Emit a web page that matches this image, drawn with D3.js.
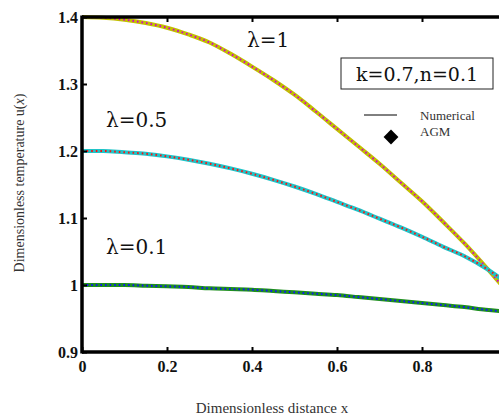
<!DOCTYPE html>
<html>
<head>
<meta charset="utf-8">
<script src="https://cdn.jsdelivr.net/npm/d3@7"></script>
<style>
  body { margin: 0; background: #fff; }
  text { font-family: "Liberation Serif", "DejaVu Serif", serif; }
</style>
</head>
<body>
<div id="viz"></div>
<script>
var width = 499;
var height = 416;

// data
var xs = [0, 0.05, 0.1, 0.15, 0.2, 0.25, 0.3, 0.35, 0.4, 0.45, 0.5,
          0.55, 0.6, 0.65, 0.7, 0.75, 0.8, 0.85, 0.9, 0.95, 1.0];
var lam1 = [1.400, 1.399, 1.396, 1.391, 1.384, 1.374, 1.362, 1.345, 1.326, 1.306, 1.284,
            1.259, 1.233, 1.207, 1.181, 1.153, 1.125, 1.094, 1.062, 1.027, 0.990];
var lam05 = [1.200, 1.200, 1.198, 1.196, 1.192, 1.187, 1.181, 1.174, 1.166, 1.157, 1.147,
             1.136, 1.124, 1.112, 1.099, 1.086, 1.072, 1.057, 1.043, 1.025, 1.003];
var lam01 = [1.000, 1.000, 1.000, 0.999, 0.998, 0.997, 0.995, 0.994, 0.993, 0.991, 0.989,
             0.987, 0.985, 0.982, 0.979, 0.976, 0.973, 0.970, 0.967, 0.963, 0.960];
var xTicks = [0, 0.2, 0.4, 0.6, 0.8];
var yTicks = [0.9, 1, 1.1, 1.2, 1.3, 1.4];

var series = [
  {name: 'λ=1', values: lam1, num: '#d000d0', agm: '#c2c000'},
  {name: 'λ=0.5', values: lam05, num: '#ff1010', agm: '#20c4c8'},
  {name: 'λ=0.1', values: lam01, num: '#1010ff', agm: '#1f8f1f'}
];

var padL = 82, padT = 17, padB = 352;

var x = d3.scaleLinear().domain([0, 1]).range([padL, padL + 425]);
var y = d3.scaleLinear().domain([0.9, 1.4]).range([padB, padT]);

var svg = d3.select('#viz').append('svg')
  .attr('width', width)
  .attr('height', height);

svg.append('clipPath').attr('id', 'clip')
  .append('rect')
  .attr('x', padL).attr('y', padT - 5)
  .attr('width', width - padL).attr('height', padB - padT + 10);

var line = d3.line()
  .x(function (d, i) { return x(xs[i]); })
  .y(function (d) { return y(d); })
  .curve(d3.curveMonotoneX);

var lines = svg.append('g').attr('clip-path', 'url(#clip)');

series.forEach(function (s) {
  // AGM curve underneath, numerical line dashed on top
  lines.append('path')
    .attr('d', line(s.values))
    .style('fill', 'none')
    .style('stroke', s.agm)
    .style('stroke-width', 4);
  lines.append('path')
    .attr('d', line(s.values))
    .style('fill', 'none')
    .style('stroke', s.num)
    .style('stroke-width', 2)
    .style('stroke-dasharray', '1.6,3');
});

// axes
var xAxis = d3.axisBottom(x).tickValues(xTicks).tickSize(-5).tickPadding(9)
  .tickFormat(function (d) { return d === 0 ? '0' : d3.format('.1f')(d); });
var gx = svg.append('g')
  .attr('transform', 'translate(0,' + padB + ')')
  .call(xAxis);

var yAxis = d3.axisLeft(y).tickValues(yTicks).tickSize(-5).tickPadding(4)
  .tickFormat(function (d) { return d === 1 ? '1' : d3.format('.1f')(d); });
var gy = svg.append('g')
  .attr('transform', 'translate(' + padL + ',0)')
  .call(yAxis);

var gt = svg.append('g')
  .attr('transform', 'translate(0,' + padT + ')')
  .call(d3.axisTop(x).tickValues(xTicks.slice(1)).tickSize(-5).tickFormat(''));

[gx, gy, gt].forEach(function (g) {
  g.select('.domain').remove();
  g.selectAll('.tick line').style('stroke', '#000').style('stroke-width', 2);
  g.selectAll('.tick text')
    .style('font-family', '"Liberation Serif", serif')
    .style('font-weight', 'bold')
    .style('font-size', '16px')
    .style('fill', '#111');
});

// frame
svg.append('line').attr('x1', padL).attr('x2', width).attr('y1', padT).attr('y2', padT)
  .style('stroke', '#000').style('stroke-width', 3.5);
svg.append('line').attr('x1', padL).attr('x2', width).attr('y1', padB).attr('y2', padB)
  .style('stroke', '#000').style('stroke-width', 3.5);
svg.append('line').attr('x1', padL).attr('x2', padL).attr('y1', padT - 1.5).attr('y2', padB + 1.5)
  .style('stroke', '#000').style('stroke-width', 3.5);

// axis titles
svg.append('text')
  .attr('x', 272).attr('y', 413)
  .attr('text-anchor', 'middle')
  .style('font-size', '15px').style('fill', '#333')
  .text('Dimensionless distance x');

var yt = svg.append('text')
  .attr('transform', 'translate(24,183) rotate(-90)')
  .attr('text-anchor', 'middle')
  .style('font-size', '14px').style('fill', '#333');
yt.append('tspan').text('Dimensionless temperature u(');
yt.append('tspan').style('font-style', 'italic').text('x');
yt.append('tspan').text(')');

// curve labels
var labelPos = [[247, 47], [106, 127], [106, 254]];
series.forEach(function (s, i) {
  svg.append('text')
    .attr('x', labelPos[i][0]).attr('y', labelPos[i][1])
    .style('font-family', '"DejaVu Serif", serif')
    .style('font-size', '20px').style('fill', '#111')
    .text(s.name);
});

// parameter box
svg.append('rect')
  .attr('x', 341).attr('y', 58).attr('width', 152).attr('height', 31)
  .style('fill', '#fff').style('stroke', '#222').style('stroke-width', 1);
svg.append('text')
  .attr('x', 417).attr('y', 81)
  .attr('text-anchor', 'middle')
  .style('font-family', '"DejaVu Serif", serif')
  .style('font-size', '19px').style('fill', '#111')
  .text('k=0.7,n=0.1');

// legend
svg.append('line').attr('x1', 364).attr('x2', 397).attr('y1', 115).attr('y2', 115)
  .style('stroke', '#000').style('stroke-width', 1);
svg.append('path')
  .attr('d', d3.symbol().type(d3.symbolSquare).size(110)())
  .attr('transform', 'translate(391,137) rotate(45)')
  .style('fill', '#000');
svg.append('text').attr('x', 420).attr('y', 120)
  .style('font-size', '13px').style('fill', '#333').text('Numerical');
svg.append('text').attr('x', 420).attr('y', 136)
  .style('font-size', '13px').style('fill', '#333').text('AGM');
</script>
</body>
</html>
